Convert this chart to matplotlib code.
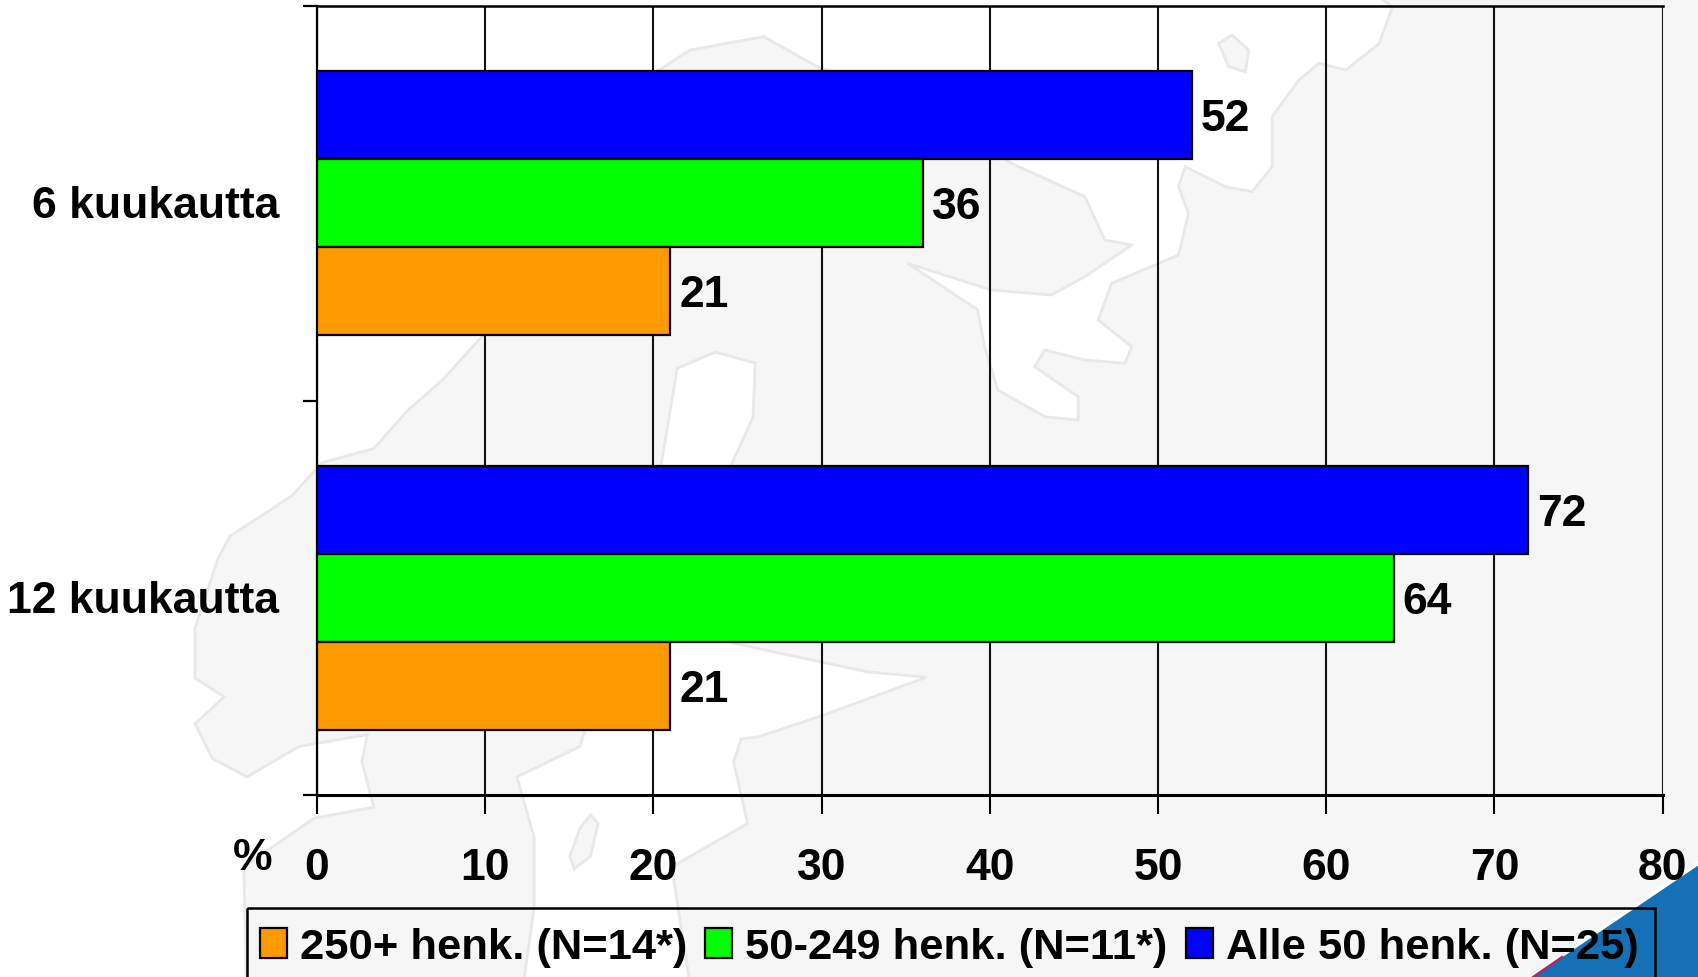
import matplotlib
matplotlib.use("Agg")
import matplotlib.pyplot as plt
from matplotlib.patches import Patch, Polygon, Rectangle

categories = ["6 kuukautta", "12 kuukautta"]
series_names = ["Alle 50 henk. (N=25)", "50-249 henk. (N=11*)", "250+ henk. (N=14*)"]
alle50 = [52, 72]
mid = [36, 64]
large = [21, 21]
xticks = [0, 10, 20, 30, 40, 50, 60, 70, 80]

plt.rcParams["font.family"] = ["Liberation Sans"]
plt.rcParams["font.weight"] = "bold"

W, H = 1699, 977
S = W / 1568
fig = plt.figure(figsize=(W/100, H/100), dpi=100)
fig.patch.set_facecolor("#F6F6F6")

# decorative faded map background (sea areas in white over grey land)
bg = fig.add_axes([0, 0, 1, 1], zorder=0)
bg.axis("off")
def z5(p):
    return [(650 + x*1049/1568, y/3) for x, y in p]
def sh(p):
    return [(x*S, y*S) for x, y in p]
sea_east = z5([(1110,20),(1090,130),(1040,210),(1000,190),(970,240),(930,350),(930,500),(900,575),(860,560),
               (800,500),(790,560),(805,640),(790,765),(690,850),(670,960),(720,1040),(710,1090),(650,1080),
               (590,1050),(575,1100),(640,1190),(640,1260),(590,1250),(520,1170),(500,1040),(490,930),(385,790),
               (510,870),(600,885),(650,830),(720,735),(680,720),(650,590),(540,490),(400,300),(250,200),(170,110),(60,150)])
sea_west = sh([(600,70),(500,250),(408,351),(376,379),(345,414),(297,427),(270,457),(249,471),(212,495),(201,516),
               (180,580),(180,626),(207,643),(180,668),(196,700),(228,717),(276,689),(339,678),(334,703),(345,745),
               (290,755),(225,800),(228,930),(-20,930),(-20,-20),(1250,-20)])
sea = sea_east + sea_west
baltic = sh([(625,340),(660,325),(697,335),(695,385),(670,440),(660,590),(800,620),(855,625),(760,660),(700,680),
             (684,682),(677,703),(690,760),(620,800),(640,930),(480,930),(493,837),(493,773),(477,717),(535,689),(600,500),(610,430)])
gotland = sh([(545,752),(552,760),(545,790),(530,802),(526,790),(535,765)])
island = z5([(850,130),(870,105),(895,150),(890,215),(865,200)])
for poly, fc in [(sea, "white"), (baltic, "white"), (gotland, "#F6F6F6"), (island, "#F6F6F6")]:
    bg.add_patch(Polygon(poly, closed=True, fc=fc, ec="#E8E8E8", lw=2.0))
bg.add_patch(Polygon([[1699, 860], [1699, 868], [1540, 977], [1528, 977]], closed=True, fc="white", ec="none"))
bg.add_patch(Polygon([[1699, 865], [W, H], [1533, H]], closed=True, fc="#1570B5", ec="none"))
bg.plot([1533, 1562], [977, 957], color="#C02060", lw=1.6)
x0, x1, top = 228*S, 1527*S, 838*S
bg.add_patch(Rectangle((x0, top), x1-x0, 200, fc="none", ec="black", lw=1.8))
bg.set_xlim(0, W); bg.set_ylim(H, 0)

ax = fig.add_axes([317/W, 1-795/H, (1662.7-317)/W, (795-6)/H], zorder=1)
ax.patch.set_alpha(0)
colors = ["#0000FF", "#00FF00", "#FF9900"]
h = 88/394.5
FS = 32
for i, (vals, c) in enumerate(zip([alle50, mid, large], colors)):
    y = [k + (i-1)*h for k in range(2)]
    ax.barh(y, vals, height=h, color=c, edgecolor="black", linewidth=1.6, zorder=3)
    for yy, v in zip(y, vals):
        ax.text(v+0.55, yy, str(v), va="center_baseline", ha="left", fontsize=FS, fontweight="bold", zorder=4)
ax.set_xlim(0, 80); ax.set_ylim(1.5, -0.5)
ax.set_xticks(xticks)
ax.set_yticks([-0.5, 0.5, 1.5]); ax.set_yticklabels([])
ax.xaxis.grid(True, color="#111111", lw=1.5, zorder=1)
ax.tick_params(axis="x", length=14, width=1.5, pad=24, labelsize=FS)
ax.tick_params(axis="y", length=10, width=1.6)
ax.spines["right"].set_visible(False)
ax.spines["top"].set_linewidth(1.8); ax.spines["bottom"].set_linewidth(2.2); ax.spines["left"].set_linewidth(1.6)
for k, c in enumerate(categories):
    ax.annotate(c, xy=(0, k), xycoords="data", xytext=(-38, 1), textcoords="offset pixels",
                ha="right", va="center_baseline", fontsize=FS)
fig.text(253/W, 1-859/H, "%", ha="center", va="center", fontsize=FS)

order = [2, 1, 0]
handles = [Patch(fc=colors[i], ec="black", lw=1.6) for i in order]
labels = [series_names[i] for i in order]
lx0, lx1, ltop = 240*S, 1512*S, 856*S
leg = fig.legend(handles, labels, loc="upper left", mode="expand",
                 bbox_to_anchor=(lx0/W, 1-ltop/H, (lx1-lx0)/W, 0), ncol=3, frameon=False,
                 fontsize=31.3, handlelength=0.62, handleheight=0.67, handletextpad=0.3, columnspacing=0.4,
                 borderpad=0, borderaxespad=0)
leg.set_zorder(5)
fig.savefig("out.png", dpi=100, facecolor=fig.get_facecolor())
